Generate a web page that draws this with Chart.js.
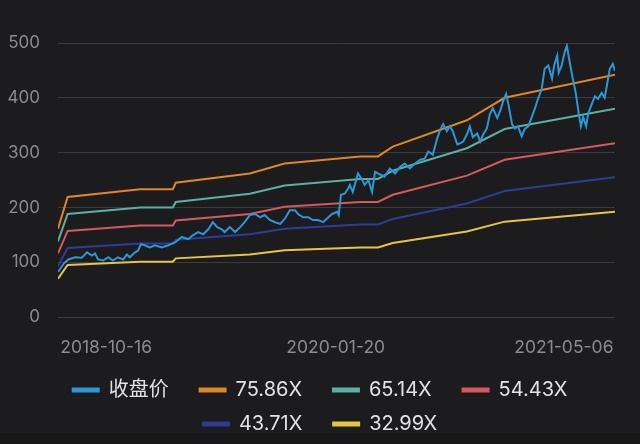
<!DOCTYPE html>
<html>
<head>
<meta charset="utf-8">
<script src="https://cdn.jsdelivr.net/npm/chart.js@4/dist/chart.umd.min.js"></script>
<style>
  html, body { margin: 0; padding: 0; }
  body { background: linear-gradient(#1c1c1e 433px, #18181a 433px); width: 640px; height: 444px; overflow: hidden; }
  canvas { display: block; }
</style>
</head>
<body>
<canvas id="peChart" width="640" height="444"></canvas>
<script>
// x = trading day index from the first day shown
const tickDays = [65, 375, 683]
const tickLabels = ["2018-10-16", "2020-01-20", "2021-05-06"]

const closeDays = [
  0, 3, 8, 14, 23, 32, 39, 46, 50, 54,
  61, 68, 74, 81, 88, 93, 97, 104, 108, 112,
  117, 124, 131, 140, 149, 158, 167, 176, 182, 189,
  196, 203, 209, 215, 221, 225, 232, 239, 246, 252,
  259, 266, 273, 279, 286, 293, 300, 306, 313, 320,
  324, 331, 338, 344, 351, 358, 365, 370, 377, 379,
  382, 387, 392, 394, 398, 405, 410, 414, 419, 424,
  428, 435, 441, 448, 455, 462, 468, 475, 482, 489,
  495, 500, 506, 512, 516, 520, 525, 529, 533, 539,
  543, 547, 552, 556, 560, 566, 570, 574, 579, 583,
  587, 593, 597, 601, 605, 608, 613, 617, 621, 626,
  630, 635, 640, 644, 648, 653, 657, 662, 667, 670,
  674, 676, 680, 684, 687, 691, 695, 699, 703, 706,
  709, 713, 716, 721, 725, 729, 734, 738, 741, 745,
  749, 752
]
const closeValues = [
  82, 88, 98, 105, 109, 108, 118, 112, 116, 105,
  103, 109, 103, 109, 105, 114, 109, 118, 121, 133,
  131, 127, 131, 127, 131, 136, 146, 142, 149, 155,
  151, 160, 173, 164, 160, 155, 164, 155, 164, 173,
  186, 188, 182, 186, 177, 173, 170, 179, 195, 195,
  188, 182, 182, 177, 177, 173, 182, 188, 192, 186,
  223, 225, 235, 241, 228, 262, 252, 241, 250, 228,
  265, 260, 256, 271, 262, 274, 280, 271, 280, 287,
  289, 302, 296, 326, 342, 352, 339, 348, 339, 315,
  317, 320, 333, 348, 328, 335, 320, 333, 344, 370,
  381, 363, 376, 394, 407, 389, 352, 344, 348, 330,
  343, 348, 366, 381, 398, 416, 453, 459, 435, 460,
  477, 446, 459, 483, 495, 464, 435, 409, 372, 348,
  365, 348, 372, 390, 403, 398, 409, 400, 422, 453,
  462, 449
]

// PE band lines, sampled where the band changes slope
const bandDays = [0, 13, 111, 155, 159, 259, 306, 408, 432, 452, 552, 603, 752]
const band7586 = [161, 219, 233, 233, 245, 262, 280, 293, 293, 311, 359, 400, 442]
const band6514 = [138, 188, 200, 200, 210, 225, 240, 252, 252, 267, 308, 343, 380]
const band5443 = [116, 157, 167, 167, 176, 188, 201, 210, 210, 223, 258, 287, 317]
const band4371 = [93, 126, 134, 134, 141, 151, 161, 169, 169, 179, 207, 230, 255]
const band3299 = [70, 95, 101, 101, 107, 114, 122, 127, 127, 135, 156, 174, 192]

const seriesNames = ["收盘价", "75.86X", "65.14X", "54.43X", "43.71X", "32.99X"]
const seriesColors = ["#2c97d6", "#e0852b", "#5cb0a2", "#d45a5e", "#2e3c98", "#e6c446"]

const FONT = "Inter, 'Noto Sans CJK SC', 'Noto Sans', sans-serif"

function toPoints(days, values) {
  return days.map((d, i) => ({ x: d, y: values[i] }))
}

const bandValues = [band7586, band6514, band5443, band4371, band3299]

const datasets = [
  {
    label: seriesNames[0],
    data: toPoints(closeDays, closeValues),
    borderColor: seriesColors[0],
    backgroundColor: seriesColors[0],
    borderWidth: 2,
  },
]
bandValues.forEach((vals, i) => {
  datasets.push({
    label: seriesNames[i + 1],
    data: toPoints(bandDays, vals),
    borderColor: seriesColors[i + 1],
    backgroundColor: seriesColors[i + 1],
    borderWidth: 2,
  })
})

// last item of each legend row gets no extra gap after it
const rowEnds = ["54.43X", "32.99X"]

const config = {
  type: "line",
  data: { datasets },
  options: {
    responsive: false,
    animation: false,
    events: [],
    layout: { padding: { top: 43, right: 0, left: 0, bottom: 0 } },
    elements: { point: { radius: 0 }, line: { tension: 0 } },
    scales: {
      x: {
        type: "linear",
        min: 0,
        max: 752,
        grid: { display: false },
        border: { display: false },
        afterBuildTicks: (scale) => {
          scale.ticks = tickDays.map((v) => ({ value: v }))
        },
        afterFit: (scale) => { scale.height = 49 },
        ticks: {
          autoSkip: false,
          maxRotation: 0,
          padding: 12,
          color: "#8b8b90",
          font: { family: FONT, size: 17.5 },
          callback: (v) => tickLabels[tickDays.indexOf(v)],
        },
      },
      y: {
        min: 0,
        max: 500,
        grid: { color: "#3a3a3d", lineWidth: 1, drawTicks: false },
        border: { display: false },
        afterFit: (scale) => { scale.width = 58 },
        ticks: {
          stepSize: 100,
          padding: 18,
          color: "#8b8b90",
          font: { family: FONT, size: 17 },
        },
      },
      // empty right-hand spacer so the plot stops short of the edge
      yRight: {
        position: "right",
        min: 0,
        max: 500,
        grid: { display: false },
        border: { display: false },
        ticks: { display: false },
        afterFit: (scale) => { scale.width = 25 },
      },
    },
    plugins: {
      tooltip: { enabled: false },
      legend: {
        position: "bottom",
        labels: {
          color: "#e2e2e4",
          font: { family: FONT, size: 20 },
          boxWidth: 26,
          boxHeight: 3,
          padding: 14,
          generateLabels: (chart) => {
            const items = Chart.defaults.plugins.legend.labels.generateLabels(chart)
            items.forEach((it) => {
              if (!rowEnds.includes(it.text)) it.text = it.text + "   "
            })
            return items
          },
        },
      },
    },
  },
}

new Chart(document.getElementById("peChart"), config)
</script>
</body>
</html>
